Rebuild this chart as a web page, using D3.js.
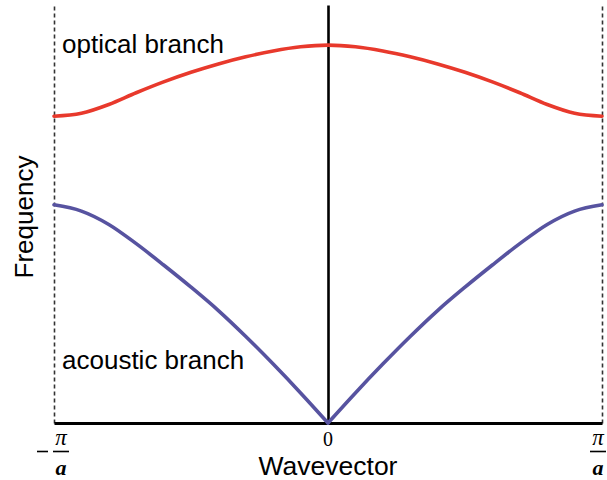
<!DOCTYPE html>
<html>
<head>
<meta charset="utf-8">
<script src="https://cdn.jsdelivr.net/npm/d3@7"></script>
<style>
  body { margin: 0; background: #fff; }
  svg { display: block; }
  .lbl { font-family: "Liberation Sans", Arial, sans-serif; fill: #000; }
  .ser { font-family: "Liberation Serif", "Times New Roman", serif; fill: #000; }
</style>
</head>
<body>
<svg id="chart" width="607" height="480"></svg>
<script>
// wavevector in units of pi/a
const wavevector = [-1, -0.9, -0.8, -0.7, -0.6, -0.5, -0.4, -0.3, -0.2, -0.1, 0,
                    0.1, 0.2, 0.3, 0.4, 0.5, 0.6, 0.7, 0.8, 0.9, 1];
// frequency, arbitrary units (0 = axis)
const optical  = [73.4, 74.1, 76.2, 79.0, 81.6, 83.9, 85.9, 87.6, 89.0, 90.0, 90.4,
                  90.0, 89.0, 87.6, 85.9, 83.9, 81.6, 79.0, 76.2, 74.1, 73.4];
const acoustic = [52.2, 50.7, 47.5, 42.9, 37.8, 32.5, 26.9, 20.7, 14.1, 7.2, 0,
                  7.2, 14.1, 20.7, 26.9, 32.5, 37.8, 42.9, 47.5, 50.7, 52.2];
const tickValues = [-1, 0, 1];
const tickLabels = ["-pi/a", "0", "pi/a"];

const svg = d3.select("#chart");

const x = d3.scaleLinear().domain([-1, 1]).range([54, 602]);
const y = d3.scaleLinear().domain([0, 100]).range([423, 5]);

// dashed zone boundaries
svg.append("g")
   .attr("transform", `translate(${x(-1)},0)`)
   .call(d3.axisLeft(y).ticks(0).tickSize(0).tickSizeOuter(0))
   .call(g => g.select(".domain").attr("stroke", "#333").attr("stroke-width", 1.6).attr("stroke-dasharray", "4,3"));
svg.append("g")
   .attr("transform", `translate(${x(1)},0)`)
   .call(d3.axisRight(y).ticks(0).tickSize(0).tickSizeOuter(0))
   .call(g => g.select(".domain").attr("stroke", "#333").attr("stroke-width", 1.6).attr("stroke-dasharray", "4,3"));

// center line
svg.append("g")
   .attr("transform", `translate(${x(0)},0)`)
   .call(d3.axisLeft(y).ticks(0).tickSize(0).tickSizeOuter(0))
   .call(g => g.select(".domain").attr("stroke", "#000").attr("stroke-width", 2.6));

// bottom axis
svg.append("g")
   .attr("transform", `translate(0,${y(0)})`)
   .call(d3.axisBottom(x).tickValues(tickValues).tickSize(0).tickSizeOuter(0).tickFormat(""))
   .call(g => g.select(".domain").attr("stroke", "#000").attr("stroke-width", 3));

// curves
const pts = (arr) => wavevector.map((k, i) => ({k: k, f: arr[i]}));
const line = d3.line().x(d => x(d.k)).y(d => y(d.f)).curve(d3.curveMonotoneX);

svg.append("path")
   .datum(pts(optical))
   .attr("fill", "none")
   .attr("stroke", "#e8392c")
   .attr("stroke-width", 3.6)
   .attr("stroke-linecap", "round")
   .attr("d", line);

const ac = pts(acoustic);
[ac.filter(d => d.k <= 0), ac.filter(d => d.k >= 0)].forEach(half => {
  svg.append("path")
     .datum(half)
     .attr("fill", "none")
     .attr("stroke", "#5753a0")
     .attr("stroke-width", 3.6)
     .attr("stroke-linecap", "round")
     .attr("d", line);
});

// branch labels
svg.append("text").attr("class", "lbl").attr("x", 62).attr("y", 53)
   .style("font-size", "26px").text("optical branch");
svg.append("text").attr("class", "lbl").attr("x", 62).attr("y", 369)
   .style("font-size", "26px").text("acoustic branch");

// axis titles
svg.append("text").attr("class", "lbl")
   .attr("transform", `translate(33,${y(50) + 3}) rotate(-90)`)
   .attr("text-anchor", "middle")
   .style("font-size", "26px").text("Frequency");
svg.append("text").attr("class", "lbl")
   .attr("x", x(0)).attr("y", 475)
   .attr("text-anchor", "middle")
   .style("font-size", "26.5px").text("Wavevector");

// tick labels
tickValues.forEach((t, i) => {
  const lab = tickLabels[i];
  if (lab === "0") {
    svg.append("text").attr("class", "ser")
       .attr("x", x(t)).attr("y", 446).attr("text-anchor", "middle")
       .style("font-size", "20px").text("0");
    return;
  }
  const cx = t < 0 ? x(t) + 7 : x(t) - 4;
  const g = svg.append("g").attr("transform", `translate(${cx},0)`);
  g.append("text").attr("class", "ser").attr("x", 0).attr("y", 445)
   .attr("text-anchor", "middle").style("font-size", "23px").style("font-style", "italic")
   .text("\u03c0");
  g.append("line").attr("x1", -8).attr("x2", 8).attr("y1", 451.5).attr("y2", 451.5)
   .attr("stroke", "#000").attr("stroke-width", 1.6);
  g.append("text").attr("class", "ser").attr("x", 0).attr("y", 474.5)
   .attr("text-anchor", "middle").style("font-size", "22px")
   .style("font-style", "italic").style("font-weight", "bold")
   .text("a");
  if (lab.startsWith("-")) {
    g.append("line").attr("x1", -24).attr("x2", -13).attr("y1", 451.5).attr("y2", 451.5)
     .attr("stroke", "#000").attr("stroke-width", 1.6);
  }
});
</script>
</body>
</html>
